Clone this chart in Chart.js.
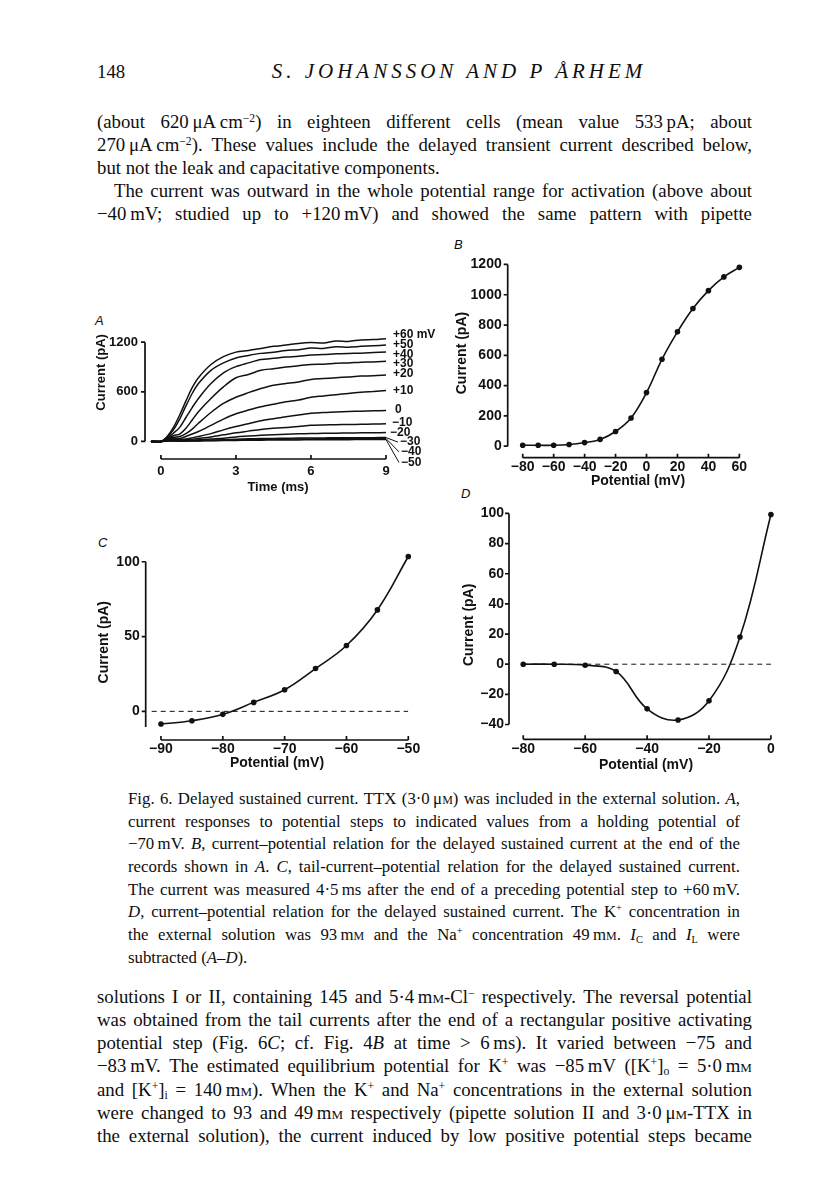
<!DOCTYPE html>
<html>
<head>
<meta charset="utf-8">
<script src="https://cdn.jsdelivr.net/npm/chart.js@4.4.1/dist/chart.umd.min.js"></script>
<style>
  html, body { margin: 0; padding: 0; background: #fff; }
  body { width: 816px; height: 1203px; position: relative; overflow: hidden; color: #0e0e0e; font-family: "Liberation Serif", serif; }
  .ln { position: absolute; white-space: nowrap; line-height: 22px; }
  .body { font-size: 18.8px; }
  .cap { font-size: 16.8px; }
  .j { display: flex; justify-content: space-between; }
  sup { font-size: .62em; vertical-align: .55em; line-height: 0; }
  sub { font-size: .62em; vertical-align: -.3em; line-height: 0; }
  sc { font-variant: small-caps; }
  .tag { position: absolute; font: italic 13px "Liberation Sans", sans-serif; }
  canvas { position: absolute; }
</style>
</head>
<body>

<div class="ln body" style="top:61px;left:97px">148</div>
<div class="ln body" style="top:60px;left:0;width:918px;text-align:center;font-style:italic;font-size:21px;letter-spacing:4px">S. JOHANSSON AND P ÅRHEM</div>

<div class="ln body j" style="top:111px;left:97px;width:655px">(about 620&thinsp;μA&thinsp;cm<sup>−2</sup>) in eighteen different cells (mean value 533&thinsp;pA; about</div>
<div class="ln body j" style="top:134px;left:97px;width:655px">270&thinsp;μA&thinsp;cm<sup>−2</sup>). These values include the delayed transient current described below,</div>
<div class="ln body" style="top:157px;left:97px">but not the leak and capacitative components.</div>
<div class="ln body j" style="top:180px;left:114px;width:638px">The current was outward in the whole potential range for activation (above about</div>
<div class="ln body j" style="top:203px;left:97px;width:655px">−40&thinsp;mV; studied up to +120&thinsp;mV) and showed the same pattern with pipette</div>

<div class="tag" style="left:95px;top:313px">A</div>
<div class="tag" style="left:454px;top:237px">B</div>
<div class="tag" style="left:98px;top:535px">C</div>
<div class="tag" style="left:461px;top:486px">D</div>

<canvas id="chartA"></canvas>
<canvas id="chartB"></canvas>
<canvas id="chartC"></canvas>
<canvas id="chartD"></canvas>

<div class="ln cap j" style="top:788px;left:128px;width:612px">Fig. 6. Delayed sustained current. TTX (3·0&thinsp;μ<sc>m</sc>) was included in the external solution. <i>A</i>,</div>
<div class="ln cap j" style="top:811px;left:128px;width:612px">current responses to potential steps to indicated values from a holding potential of</div>
<div class="ln cap j" style="top:833px;left:128px;width:612px">−70&thinsp;mV. <i>B</i>, current–potential relation for the delayed sustained current at the end of the</div>
<div class="ln cap j" style="top:856px;left:128px;width:612px">records shown in <i>A</i>. <i>C</i>, tail-current–potential relation for the delayed sustained current.</div>
<div class="ln cap j" style="top:879px;left:128px;width:612px">The current was measured 4·5&thinsp;ms after the end of a preceding potential step to +60&thinsp;mV.</div>
<div class="ln cap j" style="top:901px;left:128px;width:612px"><i>D</i>, current–potential relation for the delayed sustained current. The K<sup>+</sup> concentration in</div>
<div class="ln cap j" style="top:924px;left:128px;width:612px">the external solution was 93&thinsp;m<sc>m</sc> and the Na<sup>+</sup> concentration 49&thinsp;m<sc>m</sc>. <i>I</i><sub>C</sub> and <i>I</i><sub>L</sub> were</div>
<div class="ln cap" style="top:947px;left:128px">subtracted (<i>A</i>–<i>D</i>).</div>

<div class="ln body j" style="top:986px;left:97px;width:655px">solutions I or II, containing 145 and 5·4&thinsp;m<sc>m</sc>-Cl<sup>−</sup> respectively. The reversal potential</div>
<div class="ln body j" style="top:1009px;left:97px;width:655px">was obtained from the tail currents after the end of a rectangular positive activating</div>
<div class="ln body j" style="top:1032px;left:97px;width:655px">potential step (Fig. 6<i>C</i>; cf. Fig. 4<i>B</i> at time &gt; 6&thinsp;ms). It varied between −75 and</div>
<div class="ln body j" style="top:1055px;left:97px;width:655px">−83&thinsp;mV. The estimated equilibrium potential for K<sup>+</sup> was −85&thinsp;mV ([K<sup>+</sup>]<sub>o</sub> = 5·0&thinsp;m<sc>m</sc></div>
<div class="ln body j" style="top:1079px;left:97px;width:655px">and [K<sup>+</sup>]<sub>i</sub> = 140&thinsp;m<sc>m</sc>). When the K<sup>+</sup> and Na<sup>+</sup> concentrations in the external solution</div>
<div class="ln body j" style="top:1102px;left:97px;width:655px">were changed to 93 and 49&thinsp;m<sc>m</sc> respectively (pipette solution II and 3·0&thinsp;μ<sc>m</sc>-TTX in</div>
<div class="ln body j" style="top:1125px;left:97px;width:655px">the external solution), the current induced by low positive potential steps became</div>

<script>
// ---- values ----

// A: current traces (pA) for steps from -70 mV, sampled at these times (ms)
const timeMs = [-0.4, 0, 0.25, 0.5, 0.75, 1, 1.25, 1.5, 2, 2.5, 3, 3.5, 4, 4.5, 5, 5.5, 6, 6.5, 7, 7.5, 8, 8.5, 9];
const stepLabels = ['+60 mV', '+50', '+40', '+30', '+20', '+10', '0', '−10', '−20', '−30', '−40', '−50'];
const trP60 = [0, 0, 60, 170, 320, 490, 650, 770, 930, 1025, 1080, 1100, 1125, 1150, 1165, 1185, 1195, 1190, 1215, 1210, 1228, 1232, 1243];
const trP50 = [0, 0, 50, 140, 270, 430, 580, 700, 860, 950, 1010, 1040, 1065, 1080, 1100, 1110, 1130, 1125, 1145, 1140, 1150, 1158, 1165];
const trP40 = [0, 0, 40, 100, 170, 290, 410, 520, 700, 830, 905, 950, 990, 1005, 1020, 1030, 1045, 1050, 1060, 1065, 1068, 1075, 1082];
const trP30 = [0, 0, 35, 70, 90, 160, 260, 360, 520, 660, 770, 810, 860, 880, 900, 915, 930, 935, 945, 950, 958, 962, 971];
const trP20 = [0, 0, 30, 50, 60, 95, 150, 220, 350, 460, 535, 590, 640, 680, 700, 720, 750, 760, 770, 780, 790, 795, 805];
const trP10 = [0, 0, 25, 40, 35, 60, 90, 120, 195, 270, 335, 380, 420, 450, 480, 500, 535, 550, 565, 580, 595, 605, 616];
const tr0   = [0, 0, 20, 30, 25, 30, 45, 60, 95, 140, 180, 215, 250, 275, 300, 320, 340, 350, 355, 362, 366, 370, 375];
const trM10 = [0, 0, 15, 20, 15, 20, 25, 35, 55, 80, 105, 125, 145, 160, 170, 180, 195, 200, 203, 205, 208, 210, 213];
const trM20 = [0, 0, 10, 15, 10, 12, 15, 20, 30, 40, 55, 65, 75, 82, 88, 92, 96, 98, 100, 102, 104, 105, 107];
const trM30 = [0, 0, 8, 10, 8, 8, 10, 12, 16, 22, 28, 32, 35, 37, 39, 41, 42, 43, 44, 45, 46, 46, 47];
const trM40 = [0, 0, 6, 8, 6, 6, 8, 10, 12, 16, 20, 23, 25, 27, 28, 30, 31, 32, 33, 34, 35, 35, 36];
const trM50 = [0, 0, 5, 6, 5, 5, 6, 7, 9, 11, 13, 15, 16, 17, 18, 19, 20, 21, 22, 22, 23, 23, 24];
const xTicksA = [0, 3, 6, 9];
const yTicksA = [0, 600, 1200];

// B: I-V at the end of the records
const potB = [-80, -70, -60, -50, -40, -30, -20, -10, 0, 10, 20, 30, 40, 50, 60];
const curB = [6, 6, 6, 11, 24, 45, 97, 186, 354, 574, 755, 909, 1027, 1118, 1181];
const xTicksB = [-80, -60, -40, -20, 0, 20, 40, 60];
const yTicksB = [0, 200, 400, 600, 800, 1000, 1200];

// C: tail current I-V
const potC = [-90, -85, -80, -75, -70, -65, -60, -55, -50];
const curC = [-8.5, -6.3, -2, 6, 14.4, 28.6, 44, 67.8, 103.5];
const zeroC = [-91.5, -50];
const xTicksC = [-90, -80, -70, -60, -50];
const yTicksC = [0, 50, 100];

// D: I-V in 93 mM K+ / 49 mM Na+
const potD = [-80, -70, -60, -50, -40, -30, -20, -10, 0];
const curD = [0, 0, -0.7, -4.8, -29.6, -37, -24.3, 18, 99.3];
const zeroD = [-80, 0];
const xTicksD = [-80, -60, -40, -20, 0];
const yTicksD = [-40, -20, 0, 20, 40, 60, 80, 100];

// ---- text justification: one flex item per word ----
document.querySelectorAll('.j').forEach(el => {
  el.innerHTML = el.innerHTML.trim().split(/ +/).map(w => '<span>' + w + '</span>').join('');
});

Chart.defaults.font.family = '"Liberation Sans", Arial, sans-serif';
Chart.defaults.color = '#111';
const INK = '#111';
const minus = v => String(v).replace('-', '−');
const pts = (xs, ys) => xs.map((x, i) => ({x: x, y: ys[i]}));

//axis spines drawn only over the labelled range, like the printed figure
const frameLines = {
  id: 'frameLines',
  afterDraw(chart, args, o) {
    const {ctx, chartArea: a, scales: {x, y}} = chart;
    ctx.save();
    ctx.strokeStyle = INK;
    ctx.lineWidth = 1.7;
    ctx.beginPath();
    ctx.moveTo(a.left, y.getPixelForValue(o.yFrom));
    ctx.lineTo(a.left, y.getPixelForValue(o.yTo));
    o.yTicks.forEach(v => {
      const p = y.getPixelForValue(v);
      ctx.moveTo(a.left - 4, p);
      ctx.lineTo(a.left, p);
    });
    const x0 = x.getPixelForValue(o.xTicks[0]);
    const x1 = x.getPixelForValue(o.xTicks[o.xTicks.length - 1]);
    ctx.moveTo(x0, a.bottom);
    ctx.lineTo(x1, a.bottom);
    o.xTicks.forEach(v => {
      const p = x.getPixelForValue(v);
      ctx.moveTo(p, a.bottom);
      ctx.lineTo(p, a.bottom - 4);
    });
    ctx.stroke();
    ctx.restore();
  }
};

//step labels at the right end of each trace in A
const traceTags = {
  id: 'traceTags',
  afterDatasetsDraw(chart, args, o) {
    const {ctx, scales: {x, y}} = chart;
    ctx.save();
    ctx.font = 'bold 12px "Liberation Sans", Arial, sans-serif';
    ctx.fillStyle = INK;
    ctx.strokeStyle = INK;
    ctx.lineWidth = 1;
    ctx.textBaseline = 'middle';
    chart.data.datasets.forEach((ds, i) => {
      const end = ds.data[ds.data.length - 1];
      const px = x.getPixelForValue(end.x), py = y.getPixelForValue(end.y);
      const ty = y.getPixelForValue(o.levels[i]);
      const tx = px + o.gaps[i];
      if (o.gaps[i] > 10) {
        ctx.beginPath();
        ctx.moveTo(px, py);
        ctx.lineTo(tx - 2, ty);
        ctx.stroke();
      }
      ctx.fillText(ds.label, tx, ty);
    });
    ctx.restore();
  }
};

//puts the canvas so that the plot area lands on the page box b
function makePanel(id, b, datasets, o) {
  const cv = document.getElementById(id);
  const left = Math.round(b.L - b.W), top = Math.round(b.T - b.pt);
  const w = Math.round(b.R + b.pr - left), h = Math.round(b.B + b.H - top);
  cv.width = w; cv.height = h;
  cv.style.left = left + 'px'; cv.style.top = top + 'px';
  cv.style.width = w + 'px'; cv.style.height = h + 'px';
  const yw = b.L - left, xh = top + h - b.B;
  const tickFont = {size: o.fs, weight: 'bold'};
  const titleFont = {size: o.fs, weight: 'bold'};

  return new Chart(cv, {
    type: 'line',
    data: {datasets: datasets},
    options: {
      responsive: false,
      animation: false,
      events: [],
      layout: {padding: {left: 0, top: b.T - top, right: w - (b.R - left), bottom: 0}},
      plugins: {
        legend: {display: false},
        tooltip: {enabled: false},
        frameLines: {yFrom: o.yFrom, yTo: o.yTo, xTicks: o.xTicks, yTicks: o.yTicks},
        traceTags: o.tags || {}
      },
      scales: {
        x: {
          type: 'linear', min: o.xMin, max: o.xMax, bounds: 'data',
          grid: {display: false, drawTicks: false}, border: {display: false},
          afterBuildTicks: s => { s.ticks = o.xTicks.map(v => ({value: v})); },
          afterFit: s => { s.height = xh; },
          ticks: {padding: o.xPad, font: tickFont, color: INK, autoSkip: false, maxRotation: 0, callback: minus},
          title: {display: true, text: o.xTitle, font: titleFont, color: INK, padding: 0}
        },
        y: {
          type: 'linear', min: o.yMin, max: o.yMax, bounds: 'data',
          grid: {display: false, drawTicks: false}, border: {display: false},
          afterBuildTicks: s => { s.ticks = o.yTicks.map(v => ({value: v})); },
          afterFit: s => { s.width = yw; },
          ticks: {padding: o.yPad, font: tickFont, color: INK, autoSkip: false, callback: minus},
          title: {display: true, text: 'Current (pA)', font: titleFont, color: INK, padding: 0}
        }
      }
    },
    plugins: o.tags ? [frameLines, traceTags] : [frameLines]
  });
}

const curveSet = (xs, ys) => ({
  data: pts(xs, ys), borderColor: INK, borderWidth: 1.6, tension: 0.4,
  pointRadius: 2.8, pointBackgroundColor: INK, pointBorderWidth: 0, clip: false
});
const zeroSet = xs => ({
  data: xs.map(x => ({x: x, y: 0})), borderColor: INK, borderWidth: 1,
  borderDash: [5, 4], pointRadius: 0, tension: 0
});

// A
const tracesA = [trP60, trP50, trP40, trP30, trP20, trP10, tr0, trM10, trM20, trM30, trM40, trM50];
makePanel('chartA', {L: 145, R: 411, T: 281, B: 459, W: 51.1, H: 35.8, pt: 10, pr: 45},
  tracesA.map((tr, i) => ({
    label: stepLabels[i], data: pts(timeMs, tr), borderColor: INK, borderWidth: 1.5,
    pointRadius: 0, tension: 0.3
  })),
  {fs: 13, xMin: -0.637, xMax: 10, yMin: -212, yMax: 1882, xPad: 4.2, yPad: 7,
   yFrom: 0, yTo: 1200, xTicks: xTicksA, yTicks: yTicksA, xTitle: 'Time (ms)',
   tags: {levels: [1291, 1172, 1054, 936, 817, 608, 383, 225, 107, -8, -126, -255],
          gaps: [7, 7, 7, 7, 7, 7, 9, 6, 4, 14, 15, 15]}});

// B
makePanel('chartB', {L: 507.7, R: 768.3, T: 244.3, B: 457.7, W: 53.6, H: 32.7, pt: 10, pr: 8},
  [curveSet(potB, curB)],
  {fs: 14, xMin: -89.7, xMax: 78.7, yMin: -75.8, yMax: 1306, xPad: 1.4, yPad: 6,
   yFrom: 0, yTo: 1200, xTicks: xTicksB, yTicks: yTicksB, xTitle: 'Potential (mV)'});

// C
makePanel('chartC', {L: 145.7, R: 408.3, T: 540, B: 740, W: 50.1, H: 32.4, pt: 10, pr: 14},
  [zeroSet(zeroC), curveSet(potC, curC)],
  {fs: 14, xMin: -92.47, xMax: -50, yMin: -19.15, yMax: 111.6, xPad: 1, yPad: 6,
   yFrom: -10.5, yTo: 100, xTicks: xTicksC, yTicks: yTicksC, xTitle: 'Potential (mV)'});

// D
makePanel('chartD', {L: 509, R: 783, T: 507, B: 739.3, W: 48.4, H: 35.1, pt: 10, pr: 6},
  [zeroSet(zeroD), curveSet(potD, curD)],
  {fs: 14, xMin: -84.6, xMax: 3.9, yMin: -49.8, yMax: 102, xPad: 1.3, yPad: 5,
   yFrom: -40, yTo: 100, xTicks: xTicksD, yTicks: yTicksD, xTitle: 'Potential (mV)'});
</script>
</body>
</html>
